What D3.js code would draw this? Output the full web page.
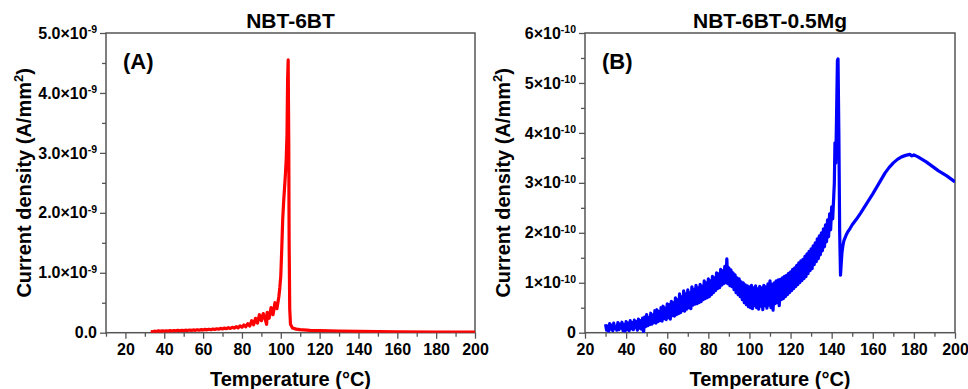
<!DOCTYPE html>
<html>
<head>
<meta charset="utf-8">
<script src="https://cdn.jsdelivr.net/npm/d3@7"></script>
<style>
  body { margin: 0; background: #fff; }
  svg { display: block; }
  text { font-family: Arial, "Liberation Sans", Helvetica, sans-serif; font-weight: bold; fill: #000; }
</style>
</head>
<body>
<svg id="chart" width="968" height="389"></svg>
<script>
// Temperature ticks (°C)
const majorTempsA = [20, 40, 60, 80, 100, 120, 140, 160, 180, 200];
const minorTempsA = [10, 30, 50, 70, 90, 110, 130, 150, 170, 190];
const majorTempsB = [20, 40, 60, 80, 100, 120, 140, 160, 180, 200];
const minorTempsB = [30, 50, 70, 90, 110, 130, 150, 170, 190];

// Current density ticks, in units of the axis exponent
const majorCurrentA = [0, 1, 2, 3, 4, 5];          // ×10^-9 A/mm²
const minorCurrentA = [0.5, 1.5, 2.5, 3.5, 4.5];
const majorCurrentB = [0, 1, 2, 3, 4, 5, 6];       // ×10^-10 A/mm²
const minorCurrentB = [0.5, 1.5, 2.5, 3.5, 4.5, 5.5];

// NBT-6BT: [temperature °C, current density ×10^-9 A/mm²]
const curveA = [
  [33,0.02],[34,0.015],[35,0.025],[36,0.02],[37,0.03],[38,0.022],[39,0.03],[40,0.025],
  [41,0.032],[42,0.026],[43,0.034],[44,0.028],[45,0.036],[46,0.03],[47,0.04],[48,0.032],
  [49,0.038],[50,0.034],[51,0.042],[52,0.036],[53,0.044],[54,0.038],[55,0.046],[56,0.04],
  [57,0.05],[58,0.042],[59,0.052],[60,0.046],[61,0.056],[62,0.048],[63,0.058],[64,0.05],
  [65,0.062],[66,0.054],[67,0.066],[68,0.058],[69,0.072],[70,0.062],[71,0.078],[72,0.066],
  [73,0.084],[74,0.07],[75,0.09],[76,0.076],[77,0.1],[78,0.08],[79,0.115],[80,0.09],
  [81,0.13],[82,0.1],[83,0.15],[84,0.11],[85,0.2],[86,0.13],[87,0.24],[88,0.16],
  [89,0.3],[90,0.2],[91,0.32],[92,0.22],[92.7,0.14],[93,0.34],[94,0.24],[95,0.42],[96,0.3],
  [97,0.5],[98,0.4],[99,0.6],[99.5,0.75],[100,0.95],[100.5,1.4],[101,1.9],[101.5,2.2],
  [102,2.45],[102.4,2.65],[102.8,2.9],[103.2,3.3],[103.5,4.2],[103.8,4.55],[104.1,3.2],
  [104.3,1.5],[104.6,0.4],[105,0.14],[106,0.08],[108,0.06],[110,0.05],[115,0.04],
  [120,0.035],[130,0.028],[140,0.022],[160,0.016],[180,0.012],[200,0.01]
];

// NBT-6BT-0.5Mg: [temperature °C, current density ×10^-10 A/mm²]
const curveB = [
  [30,0.17],[30.5,0.05],[31,0.13],[31.5,0.03],[32,0.18],[32.5,0.07],[33,0.15],[33.5,0.04],
  [34,0.19],[34.5,0.08],[35,0.12],[35.5,0.05],[36,0.2],[36.5,0.06],[37,0.17],[37.5,0.09],
  [38,0.21],[38.5,0.04],[39,0.16],[39.5,0.03],[40,0.22],[40.5,0.06],[41,0.19],[41.5,0.04],
  [42,0.24],[42.5,0.08],[43,0.2],[43.5,0.06],[44,0.25],[44.5,0.1],[45,0.22],[45.5,0.05],
  [46,0.27],[46.5,0.09],[47,0.24],[47.5,0.07],[48,0.29],[48.5,0.0],[49,0.31],[49.5,0.12],
  [50,0.36],[50.5,0.14],[51,0.3],[51.5,0.16],[52,0.39],[52.5,0.17],[53,0.35],[53.5,0.2],
  [54,0.44],[54.5,0.19],[55,0.46],[55.5,0.22],[56,0.42],[56.5,0.24],[57,0.5],[57.5,0.23],
  [58,0.53],[58.5,0.28],[59,0.49],[59.5,0.26],[60,0.58],[60.5,0.3],[61,0.56],[61.5,0.27],
  [62,0.63],[62.5,0.34],[63,0.6],[63.5,0.33],[64,0.7],[64.5,0.36],[65,0.66],[65.5,0.38],
  [66,0.78],[66.5,0.4],[67,0.72],[67.5,0.44],[68,0.84],[68.5,0.43],[69,0.78],[69.5,0.47],
  [70,0.86],[70.5,0.5],[71,0.8],[71.5,0.48],[72,0.92],[72.5,0.55],[73,0.87],[73.5,0.57],
  [74,0.95],[74.5,0.58],[75,0.9],[75.5,0.6],[76,0.97],[76.5,0.62],[77,0.93],[77.5,0.66],
  [78,1.04],[78.5,0.68],[79,1.0],[79.5,0.7],[80,1.08],[80.5,0.72],[81,1.04],[81.5,0.76],
  [82,1.13],[82.5,0.8],[83,1.1],[83.5,0.84],[84,1.2],[84.5,0.88],[85,1.18],[85.5,0.9],
  [86,1.27],[86.5,0.95],[87,1.24],[87.5,0.98],[88,1.33],[88.5,1.0],[89,1.48],[89.5,0.98],
  [90,1.3],[90.5,0.94],[91,1.26],[91.5,0.92],[92,1.2],[92.5,0.86],[93,1.16],[93.5,0.8],
  [94,1.1],[94.5,0.76],[95,1.08],[95.5,0.72],[96,1.02],[96.5,0.66],[97,1.0],[97.5,0.6],
  [98,0.96],[98.5,0.56],[99,0.94],[99.5,0.52],[100,0.92],[100.5,0.5],[101,0.95],[101.5,0.48],
  [102,0.9],[102.5,0.54],[103,0.94],[103.5,0.5],[104,0.88],[104.5,0.47],[105,0.93],[105.5,0.53],
  [106,0.9],[106.5,0.46],[107,0.95],[107.5,0.54],[108,0.92],[108.5,0.49],[109,0.98],[109.5,0.55],
  [110,1.04],[110.5,0.5],[111,0.97],[111.5,0.45],[112,1.0],[112.5,0.58],[113,1.04],[113.5,0.6],
  [114,1.06],[114.5,0.54],[115,1.07],[115.5,0.66],[116,1.1],[116.5,0.68],[117,1.13],[117.5,0.72],
  [118,1.15],[118.5,0.76],[119,1.19],[119.5,0.8],[120,1.22],[120.5,0.84],[121,1.27],[121.5,0.88],
  [122,1.3],[122.5,0.92],[123,1.35],[123.5,0.96],[124,1.4],[124.5,1.0],[125,1.44],[125.5,1.04],
  [126,1.47],[126.5,1.08],[127,1.53],[127.5,1.12],[128,1.58],[128.5,1.18],[129,1.63],[129.5,1.24],
  [130,1.68],[130.5,1.28],[131,1.74],[131.5,1.36],[132,1.8],[132.5,1.42],[133,1.88],[133.5,1.48],
  [134,1.94],[134.5,1.56],[135,2.0],[135.5,1.64],[136,2.08],[136.5,1.72],[137,2.16],[137.5,1.82],
  [138,2.26],[138.5,1.92],[139,2.38],[139.5,2.06],[140,2.52],[140.5,2.28],[141,2.72],
  [141.3,3.0],[141.6,3.8],[142,3.4],[142.4,4.4],[142.8,5.45],[143.1,5.48],[143.5,4.0],
  [143.9,2.0],[144.3,1.15],[144.6,1.35],[145,1.6],[145.5,1.75],[146,1.85],[147,1.95],
  [148,2.03],[149,2.09],[150,2.16],[152,2.27],[154,2.39],[156,2.52],[158,2.65],[160,2.78],
  [162,2.92],[164,3.06],[166,3.2],[168,3.31],[170,3.4],[172,3.47],[174,3.52],[176,3.55],
  [178,3.57],[179,3.54],[180,3.56],[182,3.52],[184,3.47],[186,3.42],[188,3.36],[190,3.3],
  [192,3.24],[194,3.19],[196,3.14],[198,3.08],[200,3.02]
];

const svg = d3.select("#chart");
const plotTop = 33, plotBottom = 332.7;
const axisColor = "#555";

function drawPanel(p) {
  const g = svg.append("g");
  const x = d3.scaleLinear().domain(p.xDomain).range([p.left, p.right]);
  const y = d3.scaleLinear().domain(p.yDomain).range([plotBottom, plotTop]);

  // minor ticks
  g.append("g").attr("transform", `translate(0,${plotBottom})`)
    .call(d3.axisBottom(x).tickValues(p.xMinor).tickSize(4).tickFormat(""));
  g.append("g").attr("transform", `translate(${p.left},0)`)
    .call(d3.axisLeft(y).tickValues(p.yMinor).tickSize(4).tickFormat(""));

  // major ticks with labels
  g.append("g").attr("transform", `translate(0,${plotBottom})`)
    .call(d3.axisBottom(x).tickValues(p.xMajor).tickSize(6).tickPadding(5).tickFormat(d3.format("d")))
    .selectAll(".tick text").attr("font-size", 16);

  const yAx = g.append("g").attr("transform", `translate(${p.left},0)`)
    .call(d3.axisLeft(y).tickValues(p.yMajor).tickSize(6).tickPadding(3));
  yAx.selectAll(".tick text").each(function (d) {
    const t = d3.select(this).attr("font-size", 16).text(null);
    if (d === 0) { t.text(p.zeroLabel); return; }
    t.append("tspan").text(p.mantissa(d) + "\u00d710");
    t.append("tspan").attr("font-size", 10.5).attr("dy", "-0.5em").text(p.exponent);
  });

  g.selectAll(".domain").remove();
  g.selectAll(".tick line").attr("stroke", axisColor).attr("stroke-width", 1.3);

  // frame
  g.append("rect")
    .attr("x", p.left).attr("y", plotTop)
    .attr("width", p.right - p.left).attr("height", plotBottom - plotTop)
    .attr("fill", "none").attr("stroke", axisColor).attr("stroke-width", 1.5);

  // curve
  const clipId = "clip-" + p.key;
  g.append("clipPath").attr("id", clipId).append("rect")
    .attr("x", p.left).attr("y", plotTop - 2)
    .attr("width", p.right - p.left).attr("height", plotBottom - plotTop + 2);
  g.append("path")
    .datum(p.data)
    .attr("clip-path", `url(#${clipId})`)
    .attr("fill", "none")
    .attr("stroke", p.color)
    .attr("stroke-width", 3.2)
    .attr("stroke-linejoin", "round")
    .attr("d", d3.line().x(d => x(d[0])).y(d => y(d[1])));

  const cx = (p.left + p.right) / 2;
  // title
  g.append("text").attr("x", cx).attr("y", 28).attr("text-anchor", "middle")
    .attr("font-size", 21).text(p.title);
  // panel letter
  g.append("text").attr("x", p.left + 17).attr("y", 69)
    .attr("font-size", 22).text(p.letter);
  // x-axis title
  g.append("text").attr("x", cx).attr("y", 386).attr("text-anchor", "middle")
    .attr("font-size", 20).text("Temperature (\u00b0C)");
  // y-axis title
  const yl = g.append("text")
    .attr("transform", `translate(${p.left - 75},${(plotTop + plotBottom) / 2}) rotate(-90)`)
    .attr("text-anchor", "middle").attr("font-size", 20);
  yl.append("tspan").text("Current density (A/mm");
  yl.append("tspan").attr("font-size", 13).attr("dy", "-0.6em").text("2");
  yl.append("tspan").attr("dy", "0.4em").text(")");
}

drawPanel({
  key: "a", left: 106, right: 475,
  xDomain: [10, 200], yDomain: [0, 5],
  xMajor: majorTempsA, xMinor: minorTempsA,
  yMajor: majorCurrentA, yMinor: minorCurrentA,
  zeroLabel: "0.0", mantissa: d => d.toFixed(1), exponent: "-9",
  data: curveA, color: "#ff0000",
  title: "NBT-6BT", letter: "(A)"
});

drawPanel({
  key: "b", left: 585, right: 955,
  xDomain: [20, 200], yDomain: [0, 6],
  xMajor: majorTempsB, xMinor: minorTempsB,
  yMajor: majorCurrentB, yMinor: minorCurrentB,
  zeroLabel: "0", mantissa: d => String(d), exponent: "-10",
  data: curveB, color: "#0000ff",
  title: "NBT-6BT-0.5Mg", letter: "(B)"
});
</script>
</body>
</html>
